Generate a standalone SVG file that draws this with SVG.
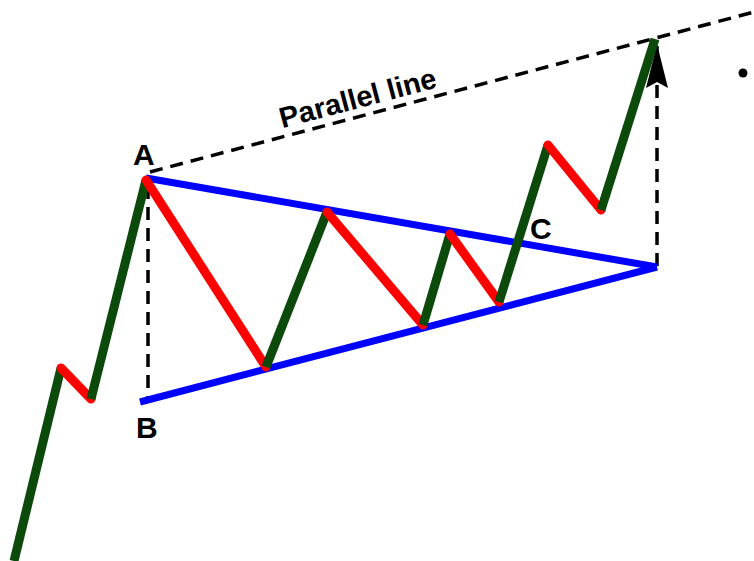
<svg xmlns="http://www.w3.org/2000/svg" width="754" height="561" viewBox="0 0 754 561">
<style>
.g{stroke:#0b4a0b;stroke-width:9;fill:none;stroke-linecap:butt;stroke-linejoin:round}
.r{stroke:#ff0000;stroke-width:9;fill:none;stroke-linecap:round}
.b{stroke:#0000ff;stroke-width:7;fill:none;stroke-linecap:butt}
.d{stroke:#000;stroke-width:3.5;fill:none;stroke-dasharray:13 8}
.t{font-family:"Liberation Sans",Arial,sans-serif;font-weight:bold;fill:#000}
</style>
<defs>
<marker id="ah" viewBox="0 0 44 24" refX="42" refY="12" markerWidth="44" markerHeight="24" markerUnits="userSpaceOnUse" orient="auto">
<path d="M44 12 L0 1 L6 12 L0 23 Z" fill="#000"/>
</marker>
</defs>
<rect width="754" height="561" fill="#fff"/>
<g id="connectors">
<line class="d" x1="150" y1="172" x2="754" y2="12"/>
<line class="d" x1="148" y1="186" x2="148" y2="398"/>
<line class="d" x1="657" y1="266" x2="657" y2="46" marker-end="url(#ah)"/>
</g>
<g id="triangle">
<line class="b" x1="146" y1="178" x2="657" y2="267"/>
<line class="b" x1="140" y1="402" x2="657" y2="267"/>
</g>
<g id="price">
<line class="g" x1="14" y1="561" x2="61" y2="368"/>
<line class="r" x1="61" y1="368" x2="91" y2="399"/>
<line class="g" x1="91" y1="399" x2="146" y2="180"/>
<line class="r" x1="146" y1="180" x2="266" y2="367"/>
<line class="g" x1="266" y1="367" x2="327" y2="212"/>
<line class="r" x1="327" y1="212" x2="423" y2="325"/>
<line class="g" x1="423" y1="325" x2="450" y2="234"/>
<line class="r" x1="450" y1="234" x2="499" y2="302"/>
<line class="g" x1="499" y1="302" x2="548" y2="145"/>
<line class="r" x1="548" y1="145" x2="601" y2="210"/>
<line class="g" x1="601" y1="210" x2="655" y2="39"/>
</g>
<g id="labelA"><text class="t" x="133" y="165" font-size="30">A</text></g>
<g id="labelB"><text class="t" x="136" y="438" font-size="30">B</text></g>
<g id="labelC"><text class="t" x="530" y="239" font-size="30">C</text></g>
<g id="labelParallel"><text class="t" x="358" y="108" font-size="29" text-anchor="middle" transform="rotate(-14.8 358 99)">Parallel line</text></g>
<g id="bullet"><circle cx="743" cy="73" r="4.5" fill="#000"/></g>
</svg>
